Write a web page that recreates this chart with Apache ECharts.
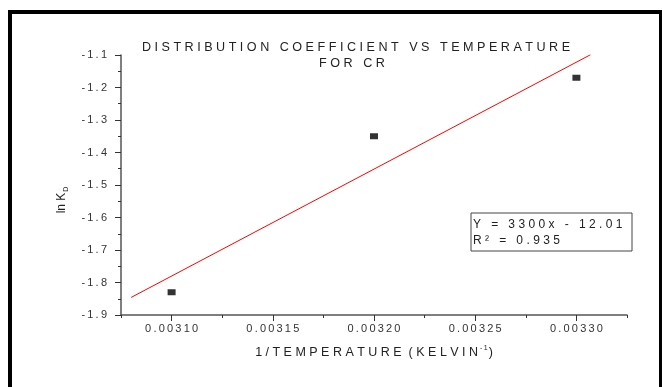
<!DOCTYPE html>
<html>
<head>
  <meta charset="utf-8">
  <title>Distribution coefficient vs temperature</title>
  <script src="https://cdn.jsdelivr.net/npm/echarts@6/dist/echarts.min.js"></script>
  <style>
    html, body { margin: 0; padding: 0; background: #fff; }
    #chart { width: 662px; height: 387px; }
  </style>
</head>
<body>
<div id="chart"></div>
<script>
// measured points (1/T, ln KD)
var invTemp = [0.00310, 0.00320, 0.00330];
var lnKd = [-1.83, -1.35, -1.17];
// linear fit ends, as drawn
var fitX = [0.00308, 0.003307];
var fitY = [-1.846, -1.099];
var xMajor = [0.00310, 0.00315, 0.00320, 0.00325, 0.00330];
var eqLines = ['Y = 3300x - 12.01', 'R² = 0.935'];

var FONT = 'Liberation Sans, Arial, sans-serif';

// spread the letters a bit like the original
function spaced(s, sep) {
  return s.split('').join(sep);
}
function wide(s) {
  // letters separated by one space, words by three
  return s.split(' ').map(function (w) { return spaced(w, ' '); }).join('   ');
}

var myChart = echarts.init(document.getElementById('chart'));

var option = {
  animation: false,
  backgroundColor: '#fff',
  grid: { left: 121, right: 35, top: 55, bottom: 72 },
  xAxis: [{
    type: 'value',
    min: 0.003075,
    max: 0.003325,
    interval: 0.000025,
    splitLine: { show: false },
    axisLine: { show: true, onZero: false, lineStyle: { color: '#555', width: 1.5 } },
    axisTick: { show: true, length: 3, lineStyle: { color: '#333' } },
    axisLabel: {
      customValues: xMajor,
      color: '#333',
      fontFamily: FONT,
      fontSize: 11,
      margin: 8,
      formatter: function (v) { return spaced(v.toFixed(5), '\u2009'); }
    },
    name: '{a|' + wide('1/TEMPERATURE') + '  ' + wide('(KELVIN') + '}{s|' + spaced('-1', '\u2009') + '}{a|)}',
    nameLocation: 'middle',
    nameGap: 30,
    nameTextStyle: {
      rich: {
        a: { fontFamily: FONT, fontSize: 12.5, color: '#222' },
        s: { fontFamily: FONT, fontSize: 7, color: '#222', padding: [0, 1, 8, 2] }
      }
    }
  }, {
    type: 'value',
    position: 'bottom',
    min: 0.003075,
    max: 0.003325,
    interval: 0.000025,
    splitLine: { show: false },
    axisLine: { show: false },
    axisTick: { show: true, length: 6, customValues: xMajor, lineStyle: { color: '#333' } },
    axisLabel: { show: false }
  }],
  yAxis: {
    type: 'value',
    min: -1.9,
    max: -1.1,
    interval: 0.1,
    splitLine: { show: false },
    axisLine: { show: true, onZero: false, lineStyle: { color: '#555', width: 1.5 } },
    axisTick: { show: true, length: 6, lineStyle: { color: '#333' } },
    minorTick: { show: true, splitNumber: 2, length: 3, lineStyle: { color: '#333' } },
    axisLabel: {
      color: '#333',
      fontFamily: FONT,
      fontSize: 11,
      margin: 14,
      formatter: function (v) { return spaced(v.toFixed(1), '\u2009'); }
    }
  },
  series: [{
    name: 'fit',
    type: 'line',
    data: fitX.map(function (x, i) { return [x, fitY[i]]; }),
    showSymbol: false,
    lineStyle: { color: '#ff0000', width: 1 },
    z: 2
  }, {
    name: 'data',
    type: 'scatter',
    data: invTemp.map(function (x, i) { return [x, lnKd[i]]; }),
    symbol: 'rect',
    symbolSize: [8, 6],
    itemStyle: { color: '#000' },
    z: 3
  }],
  graphic: [
    // frame bits
    { type: 'rect', shape: { x: 8, y: 10, width: 654, height: 4 }, style: { fill: '#000' } },
    { type: 'rect', shape: { x: 8, y: 10, width: 4, height: 377 }, style: { fill: '#000' } },
    { type: 'rect', shape: { x: 659, y: 10, width: 3, height: 377 }, style: { fill: '#000' } },
    // title
    {
      type: 'text', x: 356, y: 48,
      style: {
        text: wide('DISTRIBUTION COEFFICIENT VS TEMPERATURE'),
        font: '12.6px ' + FONT, fill: '#222', align: 'center', verticalAlign: 'middle'
      }
    },
    {
      type: 'text', x: 352, y: 64,
      style: {
        text: wide('FOR CR'),
        font: '12.6px ' + FONT, fill: '#222', align: 'center', verticalAlign: 'middle'
      }
    },
    // y axis name, rotated
    {
      type: 'text', x: 62, y: 200, rotation: Math.PI / 2,
      style: {
        text: '{a|ln K}{d|D}',
        align: 'center', verticalAlign: 'middle',
        rich: {
          a: { fontFamily: FONT, fontSize: 12, fill: '#222' },
          d: { fontFamily: FONT, fontSize: 7, fill: '#222', padding: [8, 0, 0, 1] }
        }
      }
    },
    // equation box
    {
      type: 'rect', shape: { x: 471, y: 213, width: 161, height: 38 },
      style: { fill: '#fff', stroke: '#444', lineWidth: 1 }
    },
    {
      type: 'text', x: 473, y: 225,
      style: { text: spaced(eqLines[0], '\u2009\u200A'), font: '12px ' + FONT, fill: '#222', verticalAlign: 'middle' }
    },
    {
      type: 'text', x: 473, y: 241,
      style: { text: spaced(eqLines[1], '\u2009\u200A'), font: '12px ' + FONT, fill: '#222', verticalAlign: 'middle' }
    }
  ]
};

myChart.setOption(option);
</script>
</body>
</html>
